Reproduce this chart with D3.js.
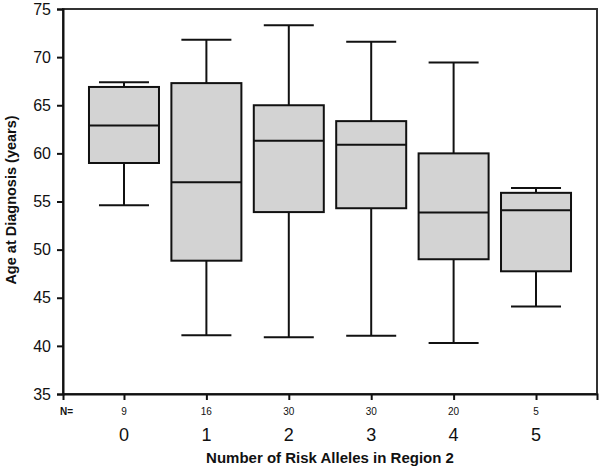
<!DOCTYPE html>
<html><head><meta charset="utf-8">
<script src="https://cdn.jsdelivr.net/npm/d3@7"></script>
<style>body{margin:0;background:#fff}svg{display:block;font-family:"Liberation Sans",Arial,sans-serif}</style>
</head><body><svg id="c" width="600" height="469"></svg>
<script>
const categories = ["0","1","2","3","4","5"];
const counts = [9,16,30,30,20,5];
const whiskerLow = [54.6,41.1,40.9,41.05,40.3,44.1];
const q1 = [59.0,48.85,53.9,54.3,49.0,47.75];
const median = [62.9,57.0,61.3,60.9,53.85,54.1];
const q3 = [66.9,67.3,65.0,63.35,60.0,55.9];
const whiskerHigh = [67.4,71.8,73.3,71.6,69.45,56.4];
const yTicks = [35,40,45,50,55,60,65,70,75];

const svg = d3.select("#c");
const L = 63, R = 597, T = 9, B = 394;
const x = d3.scalePoint().domain(categories).range([L, R]).padding(0.74);
const y = d3.scaleLinear().domain([35,75]).range([B, T]);
const boxW = 70, capW = 50;

const data = categories.map((c,i)=>({c, n:counts[i], lo:whiskerLow[i], q1:q1[i], med:median[i], q3:q3[i], hi:whiskerHigh[i]}));

// frame
svg.append("rect").attr("x",L).attr("y",T).attr("width",R-L).attr("height",B-T)
  .attr("fill","none").attr("stroke","#333").attr("stroke-width",2);

const g = svg.append("g").selectAll("g").data(data).join("g");
g.append("line").attr("x1",d=>x(d.c)).attr("x2",d=>x(d.c)).attr("y1",d=>y(d.hi)).attr("y2",d=>y(d.q3)).attr("stroke","#111").attr("stroke-width",2);
g.append("line").attr("x1",d=>x(d.c)).attr("x2",d=>x(d.c)).attr("y1",d=>y(d.q1)).attr("y2",d=>y(d.lo)).attr("stroke","#111").attr("stroke-width",2);
g.append("line").attr("x1",d=>x(d.c)-capW/2).attr("x2",d=>x(d.c)+capW/2).attr("y1",d=>y(d.hi)).attr("y2",d=>y(d.hi)).attr("stroke","#111").attr("stroke-width",2);
g.append("line").attr("x1",d=>x(d.c)-capW/2).attr("x2",d=>x(d.c)+capW/2).attr("y1",d=>y(d.lo)).attr("y2",d=>y(d.lo)).attr("stroke","#111").attr("stroke-width",2);
g.append("rect").attr("x",d=>x(d.c)-boxW/2).attr("width",boxW).attr("y",d=>y(d.q3)).attr("height",d=>y(d.q1)-y(d.q3))
  .attr("fill","#d3d3d3").attr("stroke","#111").attr("stroke-width",2);
g.append("line").attr("x1",d=>x(d.c)-boxW/2).attr("x2",d=>x(d.c)+boxW/2).attr("y1",d=>y(d.med)).attr("y2",d=>y(d.med)).attr("stroke","#111").attr("stroke-width",2);

// y axis
const ya = svg.append("g").attr("transform",`translate(${L},0)`)
  .call(d3.axisLeft(y).tickValues(yTicks).tickSize(6).tickPadding(6));
ya.select(".domain").attr("stroke","#111").attr("stroke-width",2);
ya.selectAll(".tick line").attr("stroke","#111").attr("stroke-width",2);
ya.selectAll(".tick text").attr("font-size",16).attr("fill","#111").attr("font-family","Liberation Sans, Arial, sans-serif");

// x axis
const xa = svg.append("g").attr("transform",`translate(0,${B})`)
  .call(d3.axisBottom(x).tickSize(6).tickFormat(""));
xa.select(".domain").attr("stroke","#111").attr("stroke-width",2);
xa.selectAll(".tick line").attr("stroke","#111").attr("stroke-width",2);

svg.append("g").selectAll("text").data(data).join("text")
  .attr("x",d=>x(d.c)).attr("y",415).attr("text-anchor","middle").attr("font-size",10).attr("fill","#111").text(d=>d.n);
svg.append("text").attr("x",60).attr("y",415).attr("font-size",10).attr("font-weight","bold").attr("fill","#111").text("N=");
svg.append("g").selectAll("text").data(data).join("text")
  .attr("x",d=>x(d.c)).attr("y",441).attr("text-anchor","middle").attr("font-size",18).attr("fill","#111").text(d=>d.c);

svg.append("text").attr("x",(L+R)/2).attr("y",463).attr("text-anchor","middle").attr("font-size",15).attr("font-weight","bold").attr("fill","#111")
  .text("Number of Risk Alleles in Region 2");
svg.append("text").attr("transform","translate(16,200) rotate(-90)").attr("text-anchor","middle").attr("font-size",14.5).attr("font-weight","bold").attr("fill","#111")
  .text("Age at Diagnosis (years)");
</script></body></html>
